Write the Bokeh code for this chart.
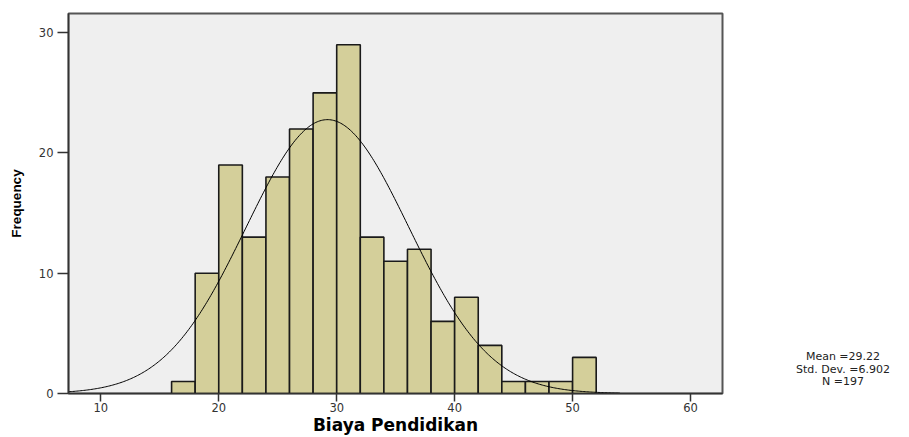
import numpy as np
from bokeh.plotting import figure
from bokeh.layouts import row
from bokeh.models import Range1d, ColumnDataSource, FixedTicker, Div
from bokeh.embed import file_html
from bokeh.resources import INLINE

# ---- data ----
bin_starts = [16, 18, 20, 22, 24, 26, 28, 30, 32, 34, 36, 38, 40, 42, 44, 46, 48, 50]
counts = [1, 10, 19, 13, 18, 22, 25, 29, 13, 11, 12, 6, 8, 4, 1, 1, 1, 3]
BIN_WIDTH = 2
MEAN = 29.22
STD_DEV = 6.902
N_OBS = 197
x_ticks = [10, 20, 30, 40, 50, 60]
y_ticks = [0, 10, 20, 30]
curve_range = [7.26, 54.0]

X0, X1 = 7.26, 62.71
Y0, Y1 = 0, 31.6

p = figure(width=730, height=437, x_range=Range1d(X0, X1), y_range=Range1d(Y0, Y1),
           output_backend="svg", toolbar_location=None,
           min_border_left=68, min_border_right=8, min_border_top=13, min_border_bottom=43)

p.background_fill_color = "#EFEFEF"
p.border_fill_color = "white"
p.outline_line_color = "#555555"
p.outline_line_width = 2
p.xgrid.visible = False
p.ygrid.visible = False

left = np.array(bin_starts, dtype=float)
src = ColumnDataSource(dict(left=left, right=left + BIN_WIDTH, top=counts, bottom=[0] * len(counts)))
p.quad(left="left", right="right", top="top", bottom="bottom", source=src,
       fill_color="#D4CF9A", line_color="#1a1a1a", line_width=1.6)

# normal curve fitted with the stated mean / sd
xs = np.linspace(curve_range[0], curve_range[1], 400)
ys = N_OBS * BIN_WIDTH / (STD_DEV * np.sqrt(2 * np.pi)) * np.exp(-0.5 * ((xs - MEAN) / STD_DEV) ** 2)
p.line(xs, ys, line_color="black", line_width=1)

# axes
for ax in (p.xaxis, p.yaxis):
    ax.minor_tick_line_color = None
    ax.major_tick_in = 0
    ax.axis_line_color = "#333333"
    ax.axis_line_width = 1.5
    ax.major_tick_line_color = "#333333"
    ax.major_tick_line_width = 1.5
    ax.major_label_text_font = "DejaVu Sans"
    ax.major_label_text_font_size = "11.5px"
    ax.major_label_text_color = "#333333"

p.xaxis.ticker = FixedTicker(ticks=x_ticks)
p.yaxis.ticker = FixedTicker(ticks=y_ticks)
p.xaxis.major_tick_out = 8
p.yaxis.major_tick_out = 11
p.xaxis.major_label_standoff = 1
p.yaxis.major_label_standoff = 4

p.yaxis.axis_label = "Frequency"
p.yaxis.axis_label_text_font = "Liberation Sans"
p.yaxis.axis_label_text_font_style = "bold"
p.yaxis.axis_label_text_font_size = "13.5px"
p.yaxis.axis_label_text_color = "black"
p.yaxis.axis_label_standoff = 12

p.xaxis.axis_label = "Biaya Pendidikan"
p.xaxis.axis_label_text_font = "DejaVu Sans"
p.xaxis.axis_label_text_font_style = "bold"
p.xaxis.axis_label_text_font_size = "17px"
p.xaxis.axis_label_text_color = "black"
p.xaxis.axis_label_standoff = 0

# statistics text to the right of the chart
stats_lines = ["Mean =%.2f" % MEAN, "Std. Dev. =%.3f" % STD_DEV, "N =%d" % N_OBS]
stats_html = (
    '<div style="padding-top:351px; margin-left:55px; width:116px; text-align:center; '
    "font-family:'DejaVu Sans', sans-serif; font-size:11px; line-height:12.5px; "
    'color:#222222; white-space:nowrap;">' + "<br>".join(stats_lines) + "</div>"
)
stats_div = Div(text=stats_html, width=179, height=437, margin=(0, 0, 0, 0))

layout = row(p, stats_div, spacing=0)
open("out.html", "w").write(file_html(layout, INLINE))
